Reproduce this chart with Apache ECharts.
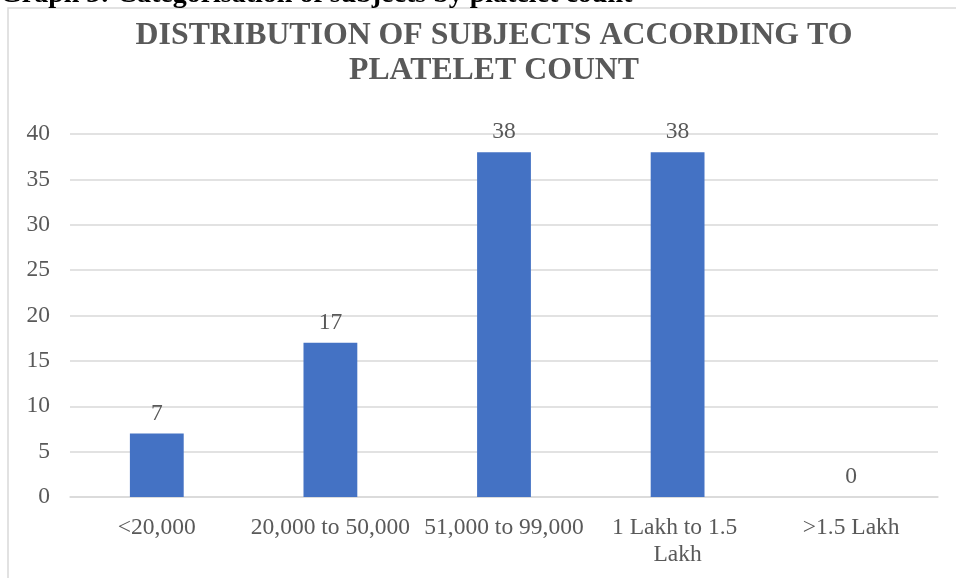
<!DOCTYPE html>
<html>
<head>
<meta charset="utf-8">
<script src="https://cdn.jsdelivr.net/npm/echarts@6/dist/echarts.min.js"></script>
<style>
  html, body { margin: 0; padding: 0; background: #fff; }
  #chart { width: 956px; height: 578px; }
</style>
</head>
<body>
<div id="chart"></div>
<script>
var categories = ["<20,000", "20,000 to 50,000", "51,000 to 99,000", "1 Lakh to 1.5 Lakh", ">1.5 Lakh"];
var subjects = [7, 17, 38, 38, 0];
var yTicks = { min: 0, max: 40, interval: 5 };

var serif = "'Liberation Serif', 'DejaVu Serif', serif";
var grey = "#595959";

var chart = echarts.init(document.getElementById("chart"));
var option = {
  animation: false,
  backgroundColor: "#fff",
  graphic: [
    {
      type: "rect",
      shape: { x: 8, y: 8, width: 970, height: 600 },
      style: { fill: "none", stroke: "#d9d9d9", lineWidth: 1.5 }
    },
    {
      type: "text",
      left: 0,
      top: -19,
      style: {
        text: "Graph 3: Categorisation of subjects by platelet count",
        font: "bold 28px " + serif,
        fill: "#000"
      }
    }
  ],
  title: {
    text: "DISTRIBUTION OF SUBJECTS ACCORDING TO\nPLATELET COUNT",
    left: 489,
    textAlign: "center",
    top: 13,
    textStyle: {
      fontFamily: serif,
      fontWeight: "bold",
      fontSize: 31.8,
      lineHeight: 35,
      color: grey
    }
  },
  grid: { left: 70, right: 18, top: 134, bottom: 81 },
  xAxis: {
    type: "category",
    data: categories,
    axisLine: { lineStyle: { color: "#d9d9d9", width: 1.5 } },
    axisTick: { show: false },
    axisLabel: {
      fontFamily: serif,
      fontSize: 23.5,
      color: grey,
      margin: 17,
      interval: 0,
      width: 168,
      overflow: "break",
      lineHeight: 27
    }
  },
  yAxis: {
    type: "value",
    min: yTicks.min,
    max: yTicks.max,
    interval: yTicks.interval,
    axisLine: { show: false },
    axisTick: { show: false },
    splitLine: { lineStyle: { color: "#d9d9d9", width: 1.5 } },
    axisLabel: { fontFamily: serif, fontSize: 23.5, color: grey, margin: 20 }
  },
  series: [
    {
      type: "bar",
      data: subjects,
      barWidth: "31%",
      itemStyle: { color: "#4472c4" },
      label: {
        show: true,
        position: "top",
        distance: 8,
        fontFamily: serif,
        fontSize: 23.5,
        color: grey
      }
    }
  ]
};
chart.setOption(option);
</script>
</body>
</html>
